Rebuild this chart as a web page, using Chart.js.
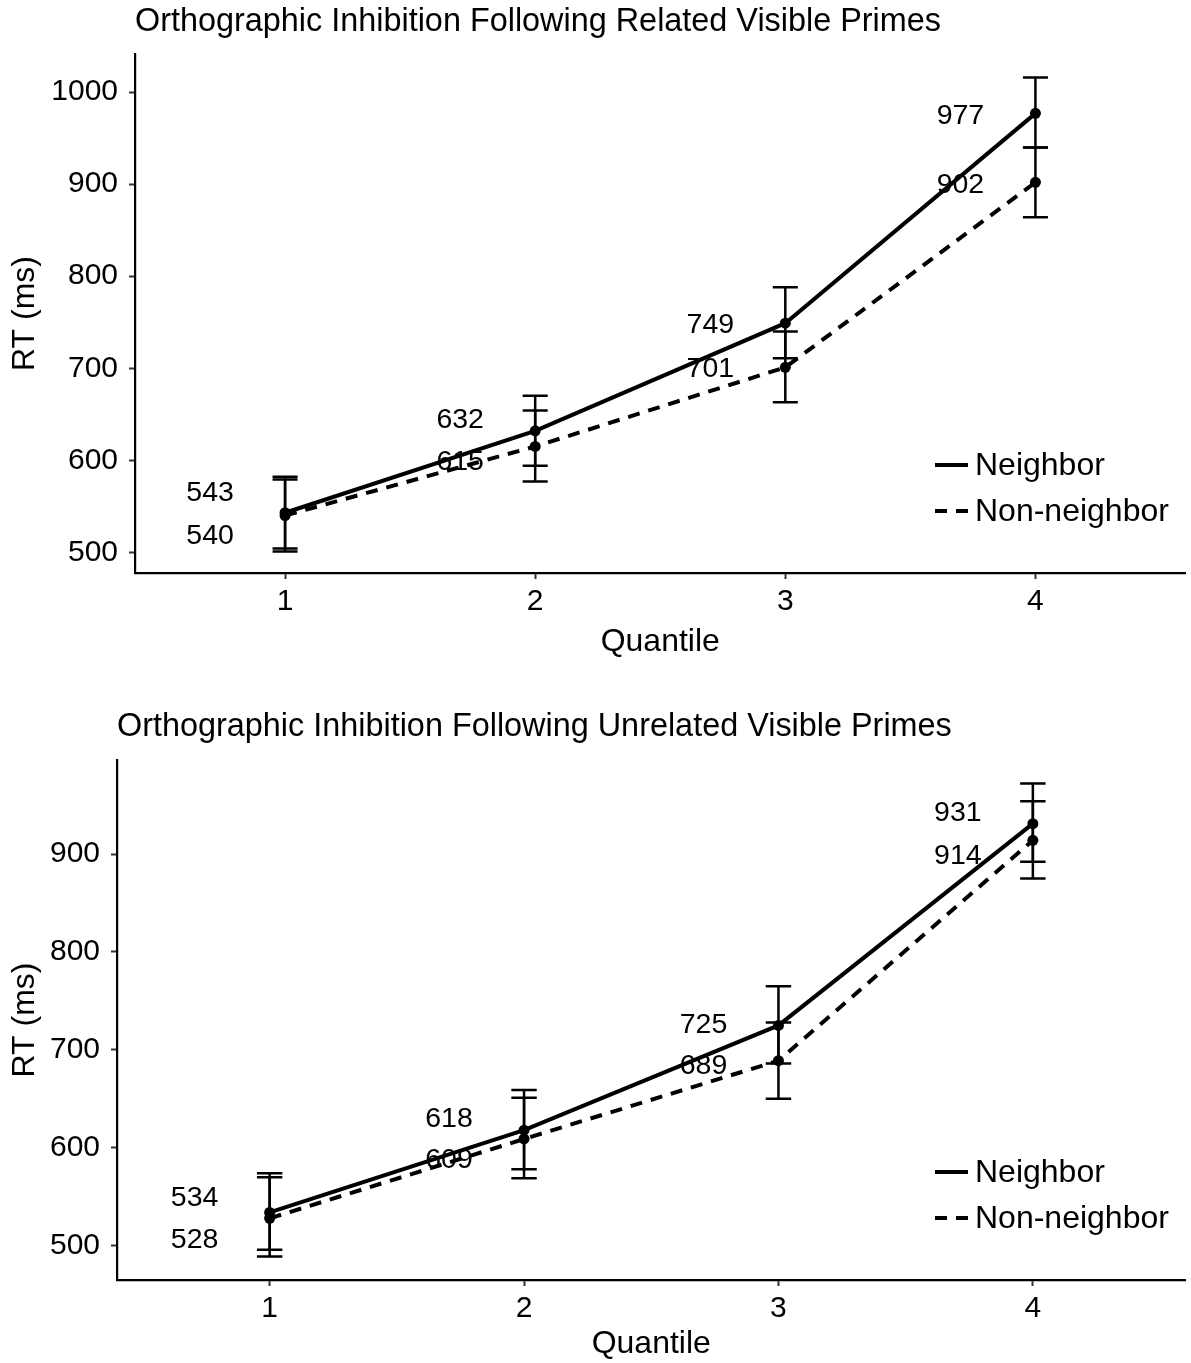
<!DOCTYPE html>
<html lang="en">
<head>
<meta charset="UTF-8" />
<title>Orthographic Inhibition</title>
<script src="https://cdn.jsdelivr.net/npm/chart.js"></script>
<style>
  html, body { margin: 0; padding: 0; background: #fff; overflow: hidden; }
  canvas { position: absolute; left: 0; }
  #related { top: 0; }
  #unrelated { top: 705px; }
</style>
</head>
<body>
<canvas id="related" width="1191" height="680" style="width:1191px;height:680px"></canvas>
<canvas id="unrelated" width="1191" height="658" style="width:1191px;height:658px"></canvas>

<script>
const quantiles = [1, 2, 3, 4];
const seriesNames = ["Neighbor", "Non-neighbor"];

// related visible primes
const relNeighbor = [543, 632, 749, 977];
const relNeighborLo = [504, 594, 711, 940];
const relNeighborHi = [582, 670, 788, 1016];
const relNonNeighbor = [540, 615, 701, 902];
const relNonNeighborLo = [501, 577, 663, 864];
const relNonNeighborHi = [579, 654, 740, 940];

// unrelated visible primes
const unrelNeighbor = [534, 618, 725, 931];
const unrelNeighborLo = [496, 578, 686, 892];
const unrelNeighborHi = [574, 659, 765, 972];
const unrelNonNeighbor = [528, 609, 689, 914];
const unrelNonNeighborLo = [489, 569, 650, 875];
const unrelNonNeighborHi = [570, 651, 728, 954];

const yTicks = [500, 600, 700, 800, 900, 1000];

const FONT = "'Liberation Sans', Arial, sans-serif";

// titles, error bars, value labels and legend drawn on top of the lines
const panelExtras = {
  id: "panelExtras",
  afterDatasetsDraw(chart) {
    const { ctx, chartArea, scales } = chart;
    const xs = scales.x, ys = scales.y;
    const cfg = chart.options.plugins.panelExtras;
    ctx.save();

    // error bars
    ctx.strokeStyle = "#000";
    ctx.lineWidth = 2.5;
    chart.data.datasets.forEach(ds => {
      ds.data.forEach((pt, i) => {
        const x = xs.getPixelForValue(pt.x);
        const x0 = xs.getPixelForValue(pt.x - 0.05);
        const x1 = xs.getPixelForValue(pt.x + 0.05);
        const yl = ys.getPixelForValue(ds.errLo[i]);
        const yh = ys.getPixelForValue(ds.errHi[i]);
        ctx.beginPath();
        ctx.moveTo(x, yl); ctx.lineTo(x, yh);
        ctx.moveTo(x0, yl); ctx.lineTo(x1, yl);
        ctx.moveTo(x0, yh); ctx.lineTo(x1, yh);
        ctx.stroke();
      });
    });

    // value labels
    ctx.fillStyle = "#000";
    ctx.font = "28.5px " + FONT;
    ctx.textAlign = "center";
    ctx.textBaseline = "middle";
    chart.data.datasets.forEach((ds, k) => {
      ds.data.forEach((pt, i) => {
        const x = xs.getPixelForValue(pt.x) - 75;
        const y = ys.getPixelForValue(pt.y) + cfg.nudge[k][i] + 1.5;
        ctx.fillText(String(pt.y), x, y);
      });
    });

    // title
    ctx.font = "32.4px " + FONT;
    ctx.textAlign = "left";
    ctx.fillText(cfg.title, chartArea.left, 22.5);

    // legend
    ctx.font = "32px " + FONT;
    chart.data.datasets.forEach((ds, k) => {
      const y = chartArea.bottom - 108 + k * 46;
      ctx.beginPath();
      ctx.lineWidth = 4;
      ctx.setLineDash(ds.borderDash || []);
      ctx.moveTo(935, y); ctx.lineTo(968, y);
      ctx.stroke();
      ctx.setLineDash([]);
      ctx.fillText(ds.label, 975, y + 1);
    });
    ctx.restore();
  }
};

function makeDataset(label, values, lo, hi, dash) {
  return {
    label: label,
    data: quantiles.map((q, i) => ({ x: q, y: values[i] })),
    errLo: lo,
    errHi: hi,
    borderColor: "#000",
    backgroundColor: "#000",
    borderWidth: 4,
    borderDash: dash,
    pointRadius: 5.5,
    pointBorderWidth: 0,
    pointBackgroundColor: "#000",
    tension: 0
  };
}

function drawPanel(id, p) {
  const ctx = document.getElementById(id).getContext("2d");
  return new Chart(ctx, {
    type: "line",
    data: {
      datasets: [
        makeDataset(seriesNames[0], p.neighbor, p.neighborLo, p.neighborHi, []),
        makeDataset(seriesNames[1], p.nonNeighbor, p.nonNeighborLo, p.nonNeighborHi, [12, 9])
      ]
    },
    options: {
      responsive: false,
      animation: false,
      layout: { padding: { top: p.top, right: 5, left: 0, bottom: 0 } },
      plugins: {
        legend: { display: false },
        tooltip: { enabled: false },
        panelExtras: { title: p.title, nudge: p.nudge }
      },
      scales: {
        x: {
          type: "linear",
          min: 0.4,
          max: 4.6,
          afterBuildTicks: s => { s.ticks = quantiles.map(v => ({ value: v })); },
          afterFit: s => { s.height = p.xHeight; },
          border: { color: "#000", width: 2.2 },
          grid: { drawOnChartArea: false, tickLength: 6, tickColor: "#333", tickWidth: 2 },
          ticks: { color: "#000", padding: 5, font: { size: 30, family: FONT } },
          title: { display: true, text: "Quantile", color: "#000", padding: { top: 0, bottom: p.xTitlePad }, font: { size: 32, family: FONT } }
        },
        y: {
          min: p.yMin,
          max: p.yMax,
          afterBuildTicks: s => { s.ticks = yTicks.filter(v => v >= p.yMin && v <= p.yMax).map(v => ({ value: v })); },
          afterFit: s => { s.width = p.yWidth; },
          border: { color: "#000", width: 2.2 },
          grid: { drawOnChartArea: false, tickLength: 6, tickColor: "#333", tickWidth: 2 },
          ticks: { color: "#000", padding: 11, font: { size: 30, family: FONT }, callback: v => String(v) },
          title: { display: true, text: "RT (ms)", color: "#000", padding: { top: 6, bottom: 0 }, font: { size: 32, family: FONT } }
        }
      }
    },
    plugins: [panelExtras]
  });
}

drawPanel("related", {
  title: "Orthographic Inhibition Following Related Visible Primes",
  neighbor: relNeighbor, neighborLo: relNeighborLo, neighborHi: relNeighborHi,
  nonNeighbor: relNonNeighbor, nonNeighborLo: relNonNeighborLo, nonNeighborHi: relNonNeighborHi,
  yMin: 477.5, yMax: 1041.5,
  top: 54, yWidth: 135, xHeight: 107, xTitlePad: 19,
  nudge: [[-21, -12, 0, 1], [19, 14, 0, 1]]
});

drawPanel("unrelated", {
  title: "Orthographic Inhibition Following Unrelated Visible Primes",
  neighbor: unrelNeighbor, neighborLo: unrelNeighborLo, neighborHi: unrelNeighborHi,
  nonNeighbor: unrelNonNeighbor, nonNeighborLo: unrelNonNeighborLo, nonNeighborHi: unrelNonNeighborHi,
  yMin: 465, yMax: 996,
  top: 55, yWidth: 117, xHeight: 83, xTitlePad: 0,
  nudge: [[-16, -13, -2, -12], [20, 20, 4, 14]]
});
</script>
</body>
</html>
